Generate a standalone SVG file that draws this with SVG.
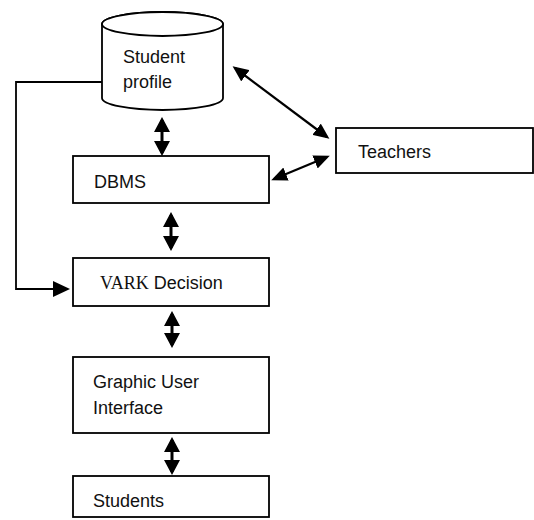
<svg xmlns="http://www.w3.org/2000/svg" width="534" height="520" viewBox="0 0 534 520">
<style>
.box{fill:#fff;stroke:#000;stroke-width:1.8}
.t{font-family:"Liberation Sans",Arial,sans-serif;font-size:18px;fill:#111}
.s{font-family:"Liberation Serif","Times New Roman",serif}
.thick{stroke:#000;stroke-width:3;fill:none}
.thin{stroke:#000;stroke-width:2.2;fill:none}
.conn{stroke:#000;stroke-width:1.8;fill:none}
</style>
<defs>
<marker id="big" viewBox="0 0 15 16" refX="12" refY="8" markerWidth="15" markerHeight="16" markerUnits="userSpaceOnUse" orient="auto-start-reverse">
<path d="M0,0 L15,8 L0,16 z" fill="#000"/>
</marker>
<marker id="small" viewBox="0 0 16 14" refX="13" refY="7" markerWidth="16" markerHeight="14" markerUnits="userSpaceOnUse" orient="auto-start-reverse">
<path d="M0,0 L16,7 L0,14 z" fill="#000"/>
</marker>
</defs>
<g id="connectors">
<polyline class="conn" points="102,82 16,82 16,289 56,289"/>
<path d="M53,281 L70,289 L53,297 z" fill="#000"/>
<line class="thick" x1="162" y1="120" x2="162" y2="153" marker-start="url(#big)" marker-end="url(#big)"/>
<line class="thick" x1="171" y1="215" x2="171" y2="248" marker-start="url(#big)" marker-end="url(#big)"/>
<line class="thick" x1="172" y1="314" x2="172" y2="345" marker-start="url(#big)" marker-end="url(#big)"/>
<line class="thick" x1="172" y1="440" x2="172" y2="472" marker-start="url(#big)" marker-end="url(#big)"/>
<line class="thin" x1="235" y1="68" x2="327" y2="137" marker-start="url(#small)" marker-end="url(#small)"/>
<line class="thin" x1="274" y1="179" x2="327" y2="157" marker-start="url(#small)" marker-end="url(#small)"/>
</g>
<g id="student-profile">
<path class="box" d="M102,24 L102,98 A60.5,12 0 0 0 223,98 L223,24 A60.5,12 0 0 0 102,24 Z"/>
<ellipse class="box" cx="162.5" cy="24" rx="60.5" ry="12" fill="none"/>
<text class="t" x="123" y="63">Student</text>
<text class="t" x="123" y="88">profile</text>
</g>
<g id="teachers">
<rect class="box" x="336" y="128" width="197" height="45"/>
<text class="t" x="358" y="158">Teachers</text>
</g>
<g id="dbms">
<rect class="box" x="73" y="156" width="196" height="47"/>
<text class="t" x="94" y="188">DBMS</text>
</g>
<g id="vark">
<rect class="box" x="73" y="258" width="196" height="48"/>
<text class="t" x="100" y="289"><tspan class="s">VARK</tspan> Decision</text>
</g>
<g id="gui">
<rect class="box" x="73" y="357" width="196" height="76"/>
<text class="t" x="93" y="388">Graphic User</text>
<text class="t" x="93" y="414">Interface</text>
</g>
<g id="students">
<rect class="box" x="73" y="476" width="196" height="41"/>
<text class="t" x="93" y="507">Students</text>
</g>
</svg>
